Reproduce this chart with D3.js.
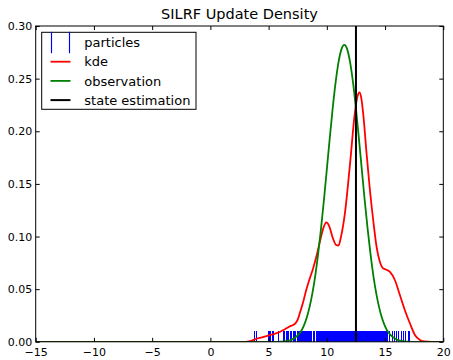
<!DOCTYPE html>
<html>
<head>
<meta charset="utf-8">
<script src="https://cdn.jsdelivr.net/npm/d3@7"></script>
<style>
  html, body { margin: 0; padding: 0; background: #fff; }
  svg { display: block; font-family: "DejaVu Sans", sans-serif; }
</style>
</head>
<body>
<svg id="chart" width="453" height="360"></svg>
<script>
// Particle positions (drawn as a rug along the x axis)
const particles = [
  3.78, 3.92, 5.02, 5.1, 5.2, 5.3, 5.4, 5.85,
  6.25, 6.35, 6.5, 6.6, 6.7, 6.85, 6.95, 7.1, 7.2, 7.35, 7.45, 7.55, 7.65, 7.75,
  7.82, 7.9, 7.97, 8.05, 8.13, 8.2, 8.28, 8.36, 8.44, 8.52, 8.6, 8.67, 8.84, 8.92,
  9.08, 9.16, 9.24, 9.31, 9.39, 9.47, 9.55, 9.63, 9.7, 9.78, 9.86, 9.94,
  10.02, 10.1, 10.17, 10.25, 10.33, 10.41, 10.49, 10.56, 10.64, 10.72, 10.8, 10.88, 10.95,
  11.03, 11.11, 11.19, 11.27, 11.34, 11.42, 11.5, 11.58, 11.66, 11.73, 11.81, 11.89, 11.97,
  12.05, 12.12, 12.2, 12.28, 12.36, 12.44, 12.51, 12.59, 12.67, 12.75, 12.83, 12.9, 12.98,
  13.06, 13.14, 13.22, 13.29, 13.37, 13.45, 13.53, 13.61, 13.68, 13.76, 13.84, 13.92,
  14.0, 14.07, 14.15, 14.23, 14.31, 14.39, 14.46, 14.54, 14.62, 14.7, 14.78, 14.85, 14.93,
  15.01, 15.09, 15.17,
  15.42, 15.6, 15.78, 15.98, 16.18, 16.4, 16.58, 16.75, 16.98, 17.12
];

// Kernel density estimate of the updated particle set
const kdeX = [-15, 3.0, 3.5, 4.0, 4.5, 5.0, 5.5, 6.0, 6.4, 6.8, 7.1, 7.3, 7.5, 7.7, 7.95,
  8.2, 8.5, 8.8, 9.1, 9.4, 9.7, 9.95, 10.2, 10.5, 10.8, 11.0, 11.2, 11.55, 12.0, 12.4,
  12.65, 12.8, 12.95, 13.12, 13.41, 13.7, 13.98, 14.27, 14.55, 14.8, 15.0, 15.4, 15.84,
  16.27, 16.7, 17.13, 17.56, 18.0, 18.4, 19.0, 20];
const kdeY = [0, 0, 0.001, 0.003, 0.0045, 0.006, 0.0075, 0.0095, 0.012, 0.0145, 0.016, 0.0175,
  0.021, 0.028, 0.037, 0.048, 0.059, 0.069, 0.081, 0.095, 0.108, 0.1135, 0.110, 0.099,
  0.092, 0.0915, 0.099, 0.122, 0.170, 0.217, 0.234, 0.237, 0.232, 0.217, 0.179, 0.144,
  0.1157, 0.0903, 0.076, 0.070, 0.0689, 0.0666, 0.0587, 0.0445, 0.030, 0.0176, 0.0065,
  0.0017, 0.0003, 0, 0];

// Observation likelihood
const obsX = [-15, 5.5, 6.0, 6.5, 7.0, 7.5, 7.75, 8.0, 8.25, 8.5, 8.75, 9.0, 9.25, 9.5, 9.75,
  10.0, 10.25, 10.5, 10.75, 11.0, 11.25, 11.5, 11.75, 12.0, 12.25, 12.5, 12.75, 13.0, 13.25,
  13.5, 13.75, 14.0, 14.25, 14.5, 14.75, 15.0, 15.25, 15.5, 16.0, 16.5, 17.0, 17.5, 20];
const obsY = [0, 0, 0.0002, 0.0007, 0.0021, 0.0060, 0.0095, 0.0147, 0.0221, 0.0322, 0.0455,
  0.0625, 0.0832, 0.1075, 0.1347, 0.1639, 0.1935, 0.2216, 0.2462, 0.2655, 0.2778, 0.282,
  0.2778, 0.2655, 0.2462, 0.2216, 0.1935, 0.1639, 0.1347, 0.1075, 0.0832, 0.0625, 0.0455,
  0.0322, 0.0221, 0.0147, 0.0095, 0.0060, 0.0021, 0.0007, 0.0002, 0, 0];

// State estimate
const stateEstimate = 12.5;

const xTicks = [-15, -10, -5, 0, 5, 10, 15, 20];
const yTicks = [0, 0.05, 0.10, 0.15, 0.20, 0.25, 0.30];

const legendItems = ["particles", "kde", "observation", "state estimation"];

const svg = d3.select("#chart");
const plot = { left: 35.7, right: 443.3, top: 26, bottom: 341.8 };

const x = d3.scaleLinear().domain([-15, 20]).range([plot.left, plot.right]);
const y = d3.scaleLinear().domain([0, 0.30]).range([plot.bottom, plot.top]);

svg.append("defs").append("clipPath").attr("id", "plotClip")
  .append("rect")
  .attr("x", plot.left).attr("y", plot.top)
  .attr("width", plot.right - plot.left).attr("height", plot.bottom - plot.top);

const body = svg.append("g").attr("clip-path", "url(#plotClip)");

// rug of particles
body.append("g").attr("shape-rendering", "crispEdges")
  .selectAll("line").data(particles).join("line")
  .attr("x1", d => x(d)).attr("x2", d => x(d))
  .attr("y1", y(0) + 10.7).attr("y2", y(0) - 10.7)
  .style("stroke", "#0000ff").style("stroke-width", 1);

const line = d3.line().curve(d3.curveMonotoneX);

body.append("path")
  .attr("d", line(kdeX.map((v, i) => [x(v), y(kdeY[i])])))
  .attr("fill", "none").attr("stroke", "#ff0000").attr("stroke-width", 1.8)
  .attr("stroke-linejoin", "round");

body.append("path")
  .attr("d", line(obsX.map((v, i) => [x(v), y(obsY[i])])))
  .attr("fill", "none").attr("stroke", "#008000").attr("stroke-width", 1.8)
  .attr("stroke-linejoin", "round");

body.append("line")
  .attr("x1", x(stateEstimate)).attr("x2", x(stateEstimate))
  .attr("y1", y(0)).attr("y2", y(0.30))
  .attr("stroke", "#000").attr("stroke-width", 2);

// axes with inward ticks on all four sides
const tickLen = 4;
const fmtY = d3.format(".2f");

const gx = svg.append("g").attr("transform", `translate(0,${plot.bottom})`)
  .call(d3.axisBottom(x).tickValues(xTicks).tickSizeInner(-tickLen).tickSizeOuter(0).tickPadding(6));
const gy = svg.append("g").attr("transform", `translate(${plot.left},0)`)
  .call(d3.axisLeft(y).tickValues(yTicks).tickFormat(fmtY).tickSizeInner(-tickLen).tickSizeOuter(0).tickPadding(3.5));
const gt = svg.append("g").attr("transform", `translate(0,${plot.top})`)
  .call(d3.axisTop(x).tickValues(xTicks).tickSizeInner(-tickLen).tickSizeOuter(0).tickFormat(""));
const gr = svg.append("g").attr("transform", `translate(${plot.right},0)`)
  .call(d3.axisRight(y).tickValues(yTicks).tickSizeInner(-tickLen).tickSizeOuter(0).tickFormat(""));

[gx, gy, gt, gr].forEach(g => {
  g.select(".domain").remove();
  g.selectAll(".tick line").attr("stroke", "#000").attr("stroke-width", 1);
  g.selectAll("text").attr("fill", "#000")
    .style("font-family", "'DejaVu Sans', sans-serif").style("font-size", "11px");
});

// frame
svg.append("rect")
  .attr("x", plot.left).attr("y", plot.top)
  .attr("width", plot.right - plot.left).attr("height", plot.bottom - plot.top)
  .attr("fill", "none").attr("stroke", "#000").attr("stroke-width", 1);

// title
svg.append("text")
  .attr("x", (plot.left + plot.right) / 2).attr("y", 19)
  .attr("text-anchor", "middle")
  .style("font-size", "14.5px").attr("fill", "#000")
  .text("SILRF Update Density");

// legend
const lg = svg.append("g");
lg.append("rect")
  .attr("x", 41.7).attr("y", 32.3).attr("width", 154.3).attr("height", 77)
  .attr("fill", "#fff").attr("stroke", "#000").attr("stroke-width", 1);

const rowY = i => 42.5 + i * 19.2;
const handleX0 = 50.5, handleX1 = 70.5;

// particles handle: two rug markers
lg.selectAll("line.pm").data([handleX0 + 1, handleX1 - 1]).join("line")
  .attr("class", "pm")
  .attr("x1", d => d).attr("x2", d => d)
  .attr("y1", rowY(0) - 10.7).attr("y2", rowY(0) + 10.7)
  .style("stroke", "#0000ff").style("stroke-width", 1.15);

const handleColors = [null, "#ff0000", "#008000", "#000000"];
[1, 2, 3].forEach(i => {
  lg.append("line")
    .attr("x1", handleX0).attr("x2", handleX1)
    .attr("y1", rowY(i)).attr("y2", rowY(i))
    .style("stroke", handleColors[i]).style("stroke-width", i === 3 ? 2 : 1.8);
});

lg.selectAll("text").data(legendItems).join("text")
  .attr("x", 84.3).attr("y", (d, i) => rowY(i))
  .attr("dy", "0.36em")
  .style("font-size", "13px").attr("fill", "#000")
  .text(d => d);
</script>
</body>
</html>
